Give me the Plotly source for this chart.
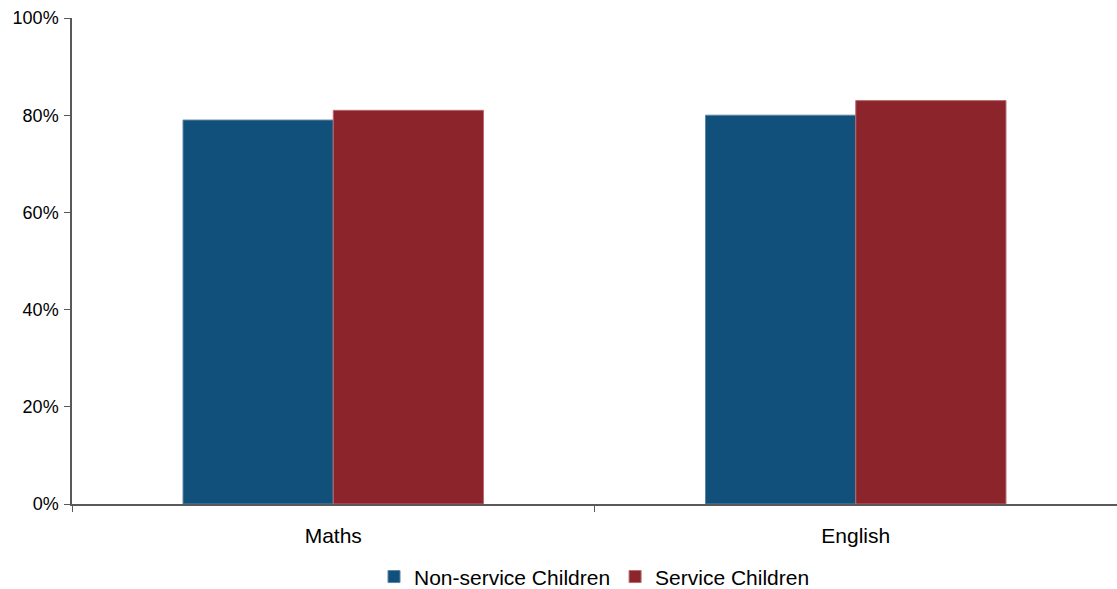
import plotly.graph_objects as go

categories = ["Maths", "English"]
non_service = [0.79, 0.80]
service = [0.81, 0.83]
y_ticks = [0, 0.2, 0.4, 0.6, 0.8, 1.0]
y_tick_labels = ["0%", "20%", "40%", "60%", "80%", "100%"]

fig = go.Figure()
fig.add_trace(go.Bar(x=categories, y=non_service, name="Non-service Children",
                     marker=dict(color="#10507A", line=dict(color="#5a86a6", width=1))))
fig.add_trace(go.Bar(x=categories, y=service, name="Service Children",
                     marker=dict(color="#8B252B", line=dict(color="#b86a6e", width=1))))

fig.update_layout(
    width=1117, height=589,
    margin=dict(l=72, r=0, t=18, b=85, autoexpand=False),
    paper_bgcolor="white", plot_bgcolor="white",
    barmode="group", bargap=0.425, bargroupgap=0,
    font=dict(family="Liberation Sans, Arial, sans-serif", size=18, color="#000"),
    showlegend=True,
    legend=dict(orientation="h", x=0.5, xanchor="center", y=-0.15, yanchor="middle",
                font=dict(size=21), itemwidth=30, traceorder="normal"),
    xaxis=dict(showline=True, linecolor="#595959", linewidth=1.5, ticks="outside",
               tickson="boundaries", ticklen=6, tickcolor="#595959", showgrid=False,
               tickfont=dict(size=21), ticklabelstandoff=12, automargin=False),
    yaxis=dict(range=[0, 1.0], tickvals=y_ticks, ticktext=y_tick_labels,
               showline=True, linecolor="#595959", linewidth=1.5, ticks="outside",
               ticklen=6, tickcolor="#595959", showgrid=False, zeroline=False,
               tickfont=dict(size=18), ticklabelstandoff=2, automargin=False),
)

fig.write_html("out.html")
